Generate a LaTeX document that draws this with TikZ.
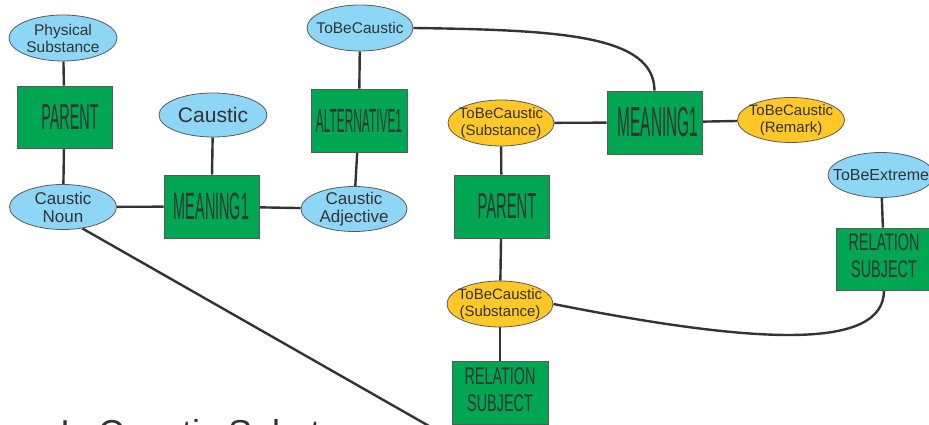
\documentclass[tikz,border=0pt]{standalone}
\usepackage{fontspec}
\usepackage{graphicx}
\setmainfont{Liberation Sans}
\usetikzlibrary{shapes.geometric,backgrounds}

\definecolor{boxgreen}{RGB}{0,166,81}
\definecolor{skyblue}{RGB}{142,214,245}
\definecolor{amber}{RGB}{255,200,38}
\definecolor{edgegray}{RGB}{90,90,90}
\definecolor{inkgray}{RGB}{51,51,51}

% condensed capital label: size, horizontal squeeze, text
\newcommand{\squeezed}[3]{{\fontsize{#1}{#1}\selectfont\scalebox{#2}[1]{#3}}}
% two-line condensed label (24pt on 27pt lines)
\newcommand{\squeezedtwo}[3]{{\fontsize{24}{27}\selectfont\scalebox{#1}[1]{\begin{tabular}{@{}c@{}}#2\\#3\end{tabular}}}}

\tikzset{
  concept/.style={ellipse, draw=edgegray, line width=0.8pt, fill=skyblue,
    inner sep=0pt, minimum width=106pt, minimum height=45pt},
  sense/.style={concept, fill=amber},
  conceptlabel/.style={inner sep=0pt, align=center, text=inkgray,
    font=\fontsize{15.5}{17}\selectfont},
  relbox/.style={rectangle, draw=edgegray, line width=0.8pt, fill=boxgreen,
    text=inkgray, inner sep=0pt, minimum width=95pt, minimum height=63pt},
  link/.style={draw=inkgray, line width=2.4pt},
}

\begin{document}
\begin{tikzpicture}[x=1pt,y=-1pt]
\useasboundingbox (0,0) rectangle (929,425);

% left cluster
\node[concept, minimum width=108pt, minimum height=46pt] (phys) at (63,38) {};
\node[conceptlabel] (phys-t) at (phys) {Physical\\Substance};
\node[relbox, minimum height=62pt] (par1) at (64.5,117) {\hspace*{11pt}\squeezed{36}{0.4}{PARENT}};
\node[concept, minimum width=108pt, minimum height=44pt] (caus) at (213,115) {};
\node[conceptlabel, font=\fontsize{21}{23}\selectfont] (caus-t) at (caus) {Caustic};
\node[concept, minimum width=107pt] (cnoun) at (63,207) {};
\node[conceptlabel, font=\fontsize{17}{18}\selectfont] (cnoun-t) at (cnoun) {Caustic\\Noun};
\node[relbox] (m1) at (211.5,206.5) {\squeezed{38}{0.378}{MEANING1}};

% middle cluster
\node[concept, minimum height=46pt] (tbc) at (360,28) {};
\node[conceptlabel] (tbc-t) at (tbc) {ToBeCaustic};
\node[relbox, minimum width=96pt] (alt) at (359,120.5) {\squeezed{33.5}{0.355}{ALTERNATIVE1}};
\node[concept] (cadj) at (354,209) {};
\node[conceptlabel, font=\fontsize{17}{18}\selectfont] (cadj-t) at (cadj) {Caustic\\Adjective};

% right cluster
\node[sense, minimum height=46pt] (tbs1) at (501,123) {};
\node[conceptlabel, font=\fontsize{15}{17}\selectfont] (tbs1-t) at (tbs1) {ToBeCaustic\\(Substance)};
\node[relbox] (par2) at (501.5,206.5) {\hspace*{11pt}\squeezed{36}{0.41}{PARENT}};
\node[relbox] (m2) at (654.5,122.5) {\hspace*{7pt}\squeezed{42}{0.365}{MEANING1}};
\node[sense, minimum width=107pt] (remark) at (791,120) {};
\node[conceptlabel, font=\fontsize{15}{17}\selectfont] (remark-t) at (remark) {ToBeCaustic\\(Remark)};
\node[concept] (tbe) at (881,175) {};
\node[conceptlabel, font=\fontsize{16}{17}\selectfont] (tbe-t) at (tbe) {ToBeExtreme};
\node[relbox, minimum height=62pt] (rs1) at (884,259) {\squeezedtwo{0.6}{RELATION}{SUBJECT}};
\node[sense, minimum height=46pt] (tbs2) at (500,304) {};
\node[conceptlabel, font=\fontsize{15}{17}\selectfont] (tbs2-t) at (tbs2) {ToBeCaustic\\(Substance)};
\node[relbox, minimum width=96pt] (rs2) at (500,392.5) {\squeezedtwo{0.6}{RELATION}{SUBJECT}};

% heading running off the lower edge
\node[anchor=base west, inner sep=0pt, text=inkgray, font=\fontsize{36}{36}\selectfont] (caption) at (60,445) {Is Caustic Substance};

\coordinate (offpage) at (450,438);

\begin{scope}[on background layer]
  \draw[link] (phys) -- (par1);
  \draw[link] (par1) -- (cnoun);
  \draw[link] (cnoun) -- (m1);
  \draw[link] (caus) -- (m1);
  \draw[link] (m1) -- (cadj);
  \draw[link] (cadj) -- (alt);
  \draw[link] (alt) -- (tbc);
  \draw[link] (tbc.east) .. controls (560,30) and (654,35) .. (m2.north);
  \draw[link] (tbs1) -- (m2);
  \draw[link] (m2) -- (remark);
  \draw[link] (tbs1) -- (par2);
  \draw[link] (par2) -- (tbs2);
  \draw[link] (tbs2) -- (rs2);
  \draw[link] (tbs2.east) .. controls (760,345) and (884,350) .. (rs1.south);
  \draw[link] (tbe) -- (rs1);
  \draw[link] (cnoun.-48) -- (offpage);
\end{scope}
\end{tikzpicture}
\end{document}
